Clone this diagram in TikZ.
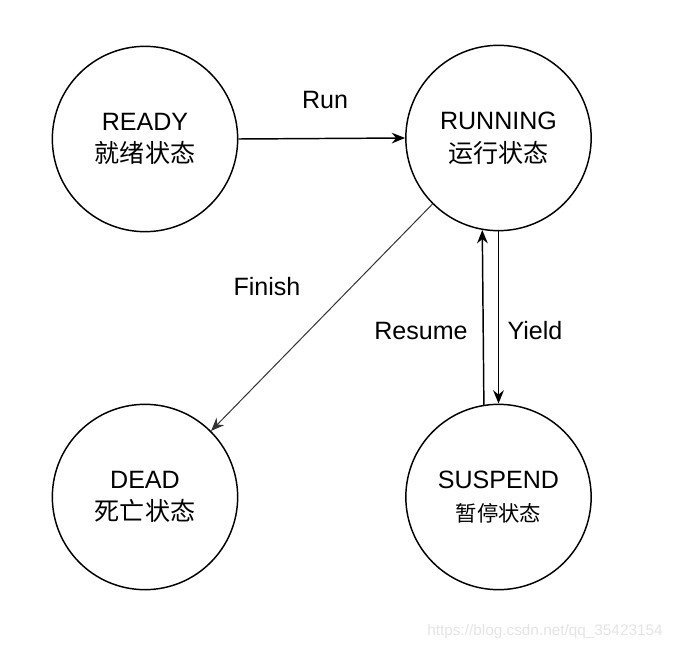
\documentclass[tikz,border=0pt]{standalone}
\usepackage{fontspec}
\setmainfont{Liberation Sans}
\newfontfamily\cjkfont{Noto Sans CJK SC}
\usetikzlibrary{arrows.meta,positioning}
\definecolor{Ink}{HTML}{000000}
\definecolor{Wmark}{HTML}{E4E4E4}
\tikzset{
corostate/.style={draw=Ink, line width=1.1pt, circle, minimum size=139pt, inner sep=0pt, align=center,
  font=\fontsize{18.8}{24.5}\selectfont},
coroarrow/.style={-{Stealth[length=10pt,width=8pt]}, line width=1.1pt, draw=Ink},
corothin/.style={-{Stealth[length=10pt,width=8pt]}, line width=0.75pt, draw=black!80},
corolabel/.style={font=\fontsize{18.8}{22}\selectfont, inner sep=1pt}
}

\begin{document}
\begin{tikzpicture}[x=0.75pt, y=-0.75pt]
  \useasboundingbox (0,0) rectangle (675,650);
  \node[corostate] (ready) at (145,139) {READY\\{\cjkfont 就绪状态}};
  \node[corostate] (running) at (498.5,138) {RUNNING\\{\cjkfont 运行状态}};
  \node[corostate] (dead) at (145,497) {DEAD\\{\cjkfont 死亡状态}};
  \node[corostate] (suspend) at (498.5,497) {SUSPEND\\{\cjkfont\fontsize{16}{22}\selectfont 暂停状态}};
  % connectors
  \draw[coroarrow] (ready.east) -- (running.west);
  \draw[corothin] (running.225) -- (dead.45);
  \draw[coroarrow] (running.south) -- (suspend.north);
  \draw[coroarrow] (suspend.99.3) -- (running.260.7);
  % labels
  \node[corolabel] (run) at (325,100) {Run};
  \node[corolabel] (finish) at (267,287) {Finish};
  \node[corolabel] (resume) at (421,331) {Resume};
  \node[corolabel] (yield) at (535,331) {Yield};
  \node[text=Wmark, font=\fontsize{11.5}{14}\selectfont] (mark) at (545,632) {https://blog.csdn.net/qq\_35423154};
\end{tikzpicture}
\end{document}
